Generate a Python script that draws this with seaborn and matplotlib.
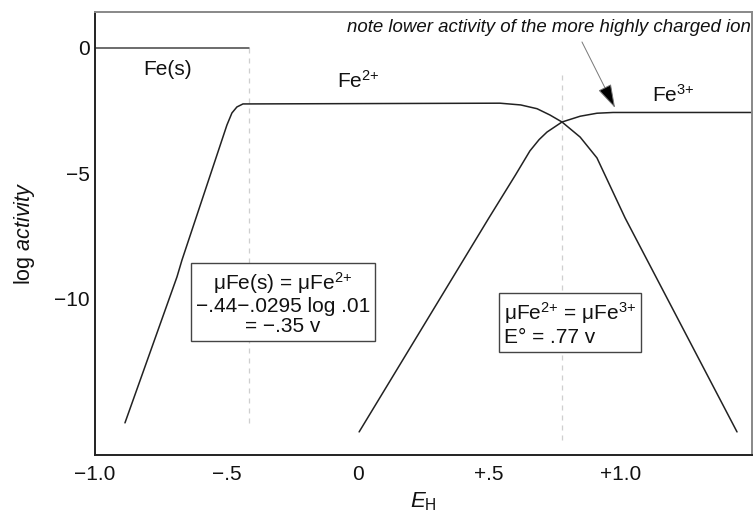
import numpy as np
import pandas as pd
import matplotlib
matplotlib.use("Agg")
import matplotlib.pyplot as plt
import seaborn as sns

# ---------------- data ----------------
fes_x = [-1.0, -0.414]
fes_y = [0.0, 0.0]

fe2_x = [-0.886, -0.688, -0.669, -0.498, -0.479, -0.460, -0.437, 0.541, 0.620,
         0.682, 0.731, 0.777, 0.846, 0.910, 1.017, 1.443]
fe2_y = [-14.94, -9.12, -8.45, -3.07, -2.59, -2.35, -2.23, -2.20, -2.27,
         -2.42, -2.67, -2.95, -3.55, -4.38, -6.77, -15.30]

fe3_x = [0.005, 0.499, 0.600, 0.655, 0.690, 0.720, 0.777, 0.846, 0.910, 0.971, 1.50]
fe3_y = [-15.30, -6.77, -5.06, -4.10, -3.65, -3.35, -2.95, -2.72, -2.60, -2.57, -2.57]

guide_x = [-0.414, 0.777]
guide_top = [0.0, -1.08]
guide_bottom = [-15.0, -15.7]

xtick_vals = [-1.0, -0.5, 0.0, 0.5, 1.0]
xtick_labels = ["\u22121.0", "\u2212.5", "0", "+.5", "+1.0"]
ytick_vals = [0, -5, -10]
ytick_labels = ["0", "\u22125", "\u221210"]

# ---------------- style ----------------
sns.set_theme(style="white")
plt.rcParams["font.family"] = ["Liberation Sans", "DejaVu Sans"]
plt.rcParams["mathtext.fontset"] = "custom"
plt.rcParams["mathtext.rm"] = "Liberation Sans"
plt.rcParams["mathtext.it"] = "Liberation Sans:italic"
plt.rcParams["mathtext.bf"] = "Liberation Sans:bold"
plt.rcParams["mathtext.default"] = "rm"

fig = plt.figure(figsize=(7.54, 5.19), dpi=100)
ax = fig.add_axes([95 / 754, 1 - 455 / 519, (752 - 95) / 754, (455 - 12) / 519])

line_c = "#222222"
df = pd.concat([
    pd.DataFrame({"x": fes_x, "y": fes_y, "s": "Fe(s)"}),
    pd.DataFrame({"x": fe2_x, "y": fe2_y, "s": "Fe2+"}),
    pd.DataFrame({"x": fe3_x, "y": fe3_y, "s": "Fe3+"}),
])
for name, col, lw in [("Fe(s)", "#444444", 1.1), ("Fe2+", line_c, 1.1), ("Fe3+", line_c, 1.1)]:
    sub = df[df["s"] == name]
    sns.lineplot(data=sub, x="x", y="y", ax=ax, color=col, lw=lw,
                 sort=False, estimator=None, legend=False)

for gx, gt, gb in zip(guide_x, guide_top, guide_bottom):
    ax.plot([gx, gx], [gt, gb], color="#cfcfcf", lw=0.9, ls=(0, (4, 4)), zorder=0)

ax.set_xlim(-1.0, 1.5)
ax.set_ylim(-16.22, 1.434)
ax.set_xticks(xtick_vals)
ax.set_xticklabels(xtick_labels)
ax.set_yticks(ytick_vals)
ax.set_yticklabels(ytick_labels)
ax.tick_params(axis="both", direction="in", length=10, width=1, color="#cccccc",
               labelsize=15, labelcolor="#111111")
ax.tick_params(axis="x", pad=7)
ax.tick_params(axis="y", pad=4)

for side in ["left", "bottom"]:
    ax.spines[side].set_color("#222222")
    ax.spines[side].set_linewidth(1.4)
for side in ["top", "right"]:
    ax.spines[side].set_color("#888888")
    ax.spines[side].set_linewidth(1.4)

ax.set_xlabel(r"$\mathit{E}_\mathrm{H}$", fontsize=16, color="#111111", labelpad=5)
ax.set_ylabel(r"log $\mathit{activity}$", fontsize=15.5, color="#111111", labelpad=12)

# species labels
ax.text(-0.817, -1.08, "Fe(s)", fontsize=15, color="#111111", va="baseline", ha="left")
ax.text(-0.079, -1.59, r"Fe$^{2{+}}$", fontsize=15, color="#111111", va="baseline", ha="left")
ax.text(1.119, -2.15, r"Fe$^{3{+}}$", fontsize=15, color="#111111", va="baseline", ha="left")

# note + arrow
ax.text(1.497, 0.80, "note lower activity of the more highly charged ion",
        fontsize=13.4, style="italic", color="#111111", ha="right", va="center")
ax.annotate("", xy=(0.979, -2.39), xytext=(0.853, 0.24),
            arrowprops=dict(arrowstyle="-|>,head_length=1.0,head_width=0.3",
                            mutation_scale=15, facecolor="black", edgecolor="#777777",
                            lw=0.7, shrinkA=0, shrinkB=0))

# boxes
box_kw = dict(boxstyle="square,pad=0.25", fc="white", ec="#444444", lw=1.0)
ax.text(-0.285, -10.16,
        "\u03bcFe(s) = \u03bcFe$^{2{+}}$\n\u2212.44\u2212.0295 log .01\n= \u2212.35 v",
        fontsize=15, color="#111111", ha="center", va="center",
        multialignment="center", linespacing=1.05, bbox=box_kw)
ax.text(0.556, -10.98,
        "\u03bcFe$^{2{+}}$ = \u03bcFe$^{3{+}}$\nE\u00b0 = .77 v",
        fontsize=15, color="#111111", ha="left", va="center",
        multialignment="left", linespacing=1.1, bbox=box_kw)

fig.savefig("out.png", dpi=100)
